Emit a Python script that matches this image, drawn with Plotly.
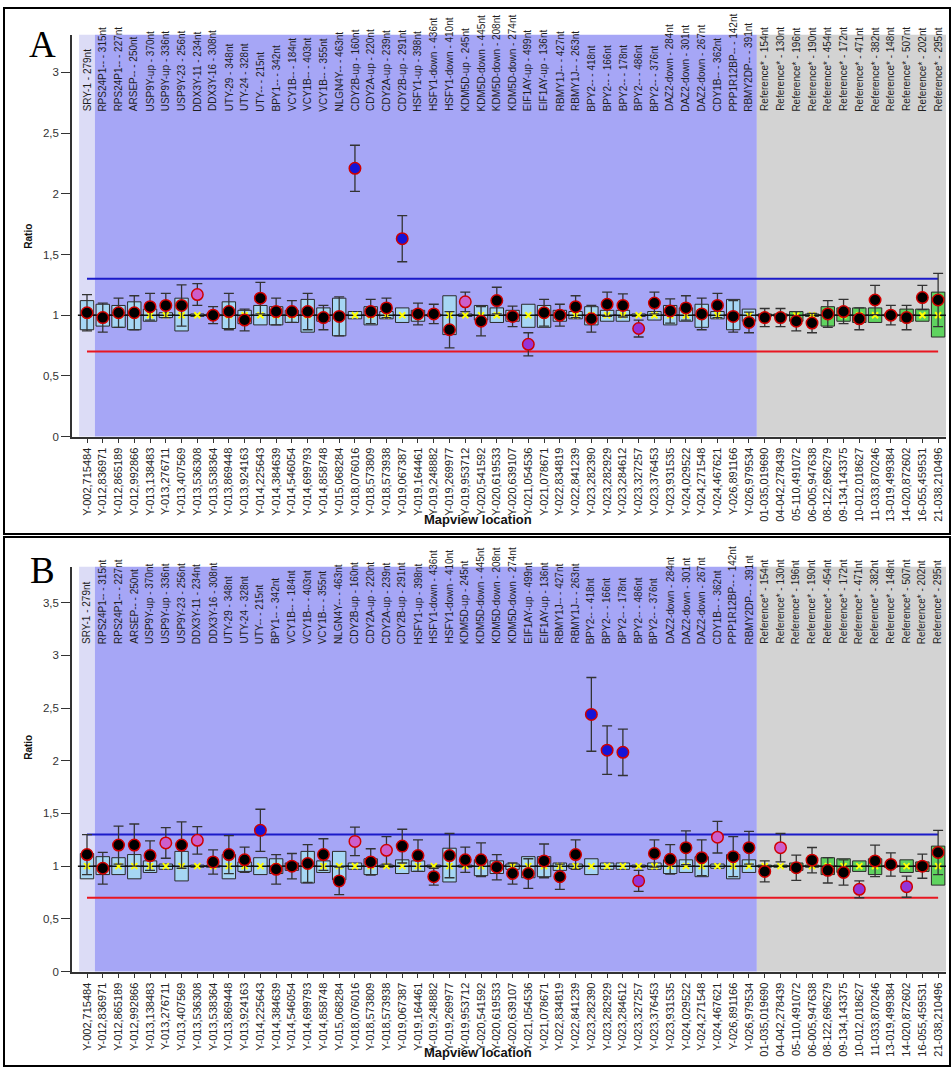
import plotly.graph_objects as go

# ---------------- data ----------------
genes = [
    "SRY-1 - 279nt", "RPS24P1-- - 315nt", "RPS24P1-- - 227nt", "ARSEP-- - 250nt",
    "USP9Y-up - 370nt", "USP9Y-up - 336nt", "USP9Y-23 - 256nt", "DDX3Y-11 - 234nt",
    "DDX3Y-16 - 308nt", "UTY-29 - 348nt", "UTY-24 - 328nt", "UTY-- - 215nt",
    "BPY1-- - 342nt", "VCY1B-- - 184nt", "VCY1B-- - 403nt", "VCY1B-- - 355nt",
    "NLGN4Y-- - 463nt", "CDY2B-up - 160nt", "CDY2A-up - 220nt", "CDY2A-up - 239nt",
    "CDY2B-up - 291nt", "HSFY1-up - 398nt", "HSFY1-down - 436nt", "HSFY1-down - 410nt",
    "KDM5D-up - 245nt", "KDM5D-down - 445nt", "KDM5D-down - 208nt", "KDM5D-down - 274nt",
    "EIF1AY-up - 499nt", "EIF1AY-up - 136nt", "RBMY1J-- - 427nt", "RBMY1J-- - 263nt",
    "BPY2-- - 418nt", "BPY2-- - 166nt", "BPY2-- - 178nt", "BPY2-- - 486nt",
    "BPY2-- - 376nt", "DAZ2-down - 284nt", "DAZ2-down - 301nt", "DAZ2-down - 267nt",
    "CDY1B-- - 362nt", "PPP1R12BP-- - 142nt", "RBMY2DP-- - 391nt",
    "Reference* - 154nt", "Reference* - 130nt", "Reference* - 196nt", "Reference* - 190nt",
    "Reference* - 454nt", "Reference* - 172nt", "Reference* - 471nt", "Reference* - 382nt",
    "Reference* - 148nt", "Reference* - 507nt", "Reference* - 202nt", "Reference* - 295nt",
]

locations = [
    "Y-002,715484", "Y-012,836971", "Y-012,865189", "Y-012,992866", "Y-013,138483",
    "Y-013,276711", "Y-013,407569", "Y-013,536308", "Y-013,538364", "Y-013,869448",
    "Y-013,924163", "Y-014,225643", "Y-014,384639", "Y-014,546054", "Y-014,699793",
    "Y-014,858748", "Y-015,068284", "Y-018,076016", "Y-018,573809", "Y-018,573938",
    "Y-019,067387", "Y-019,164461", "Y-019,248882", "Y-019,269977", "Y-019,953712",
    "Y-020,541592", "Y-020,619533", "Y-020,639107", "Y-021,054536", "Y-021,078671",
    "Y-022,834819", "Y-022,841239", "Y-023,282390", "Y-023,282929", "Y-023,284612",
    "Y-023,327257", "Y-023,376453", "Y-023,931535", "Y-024,029522", "Y-024,271548",
    "Y-024,467621", "Y-026,891166", "Y-026,979534",
    "01-035,019690", "04-042,278439", "05-110,491072", "06-005,947638", "08-122,696279",
    "09-134,143375", "10-012,018627", "11-033,870246", "13-019,499384", "14-020,872602",
    "16-055,459531", "21-038,210496",
]

n_control_first = 1       # SRY column
n_reference_start = 43    # first reference probe index

upper_threshold = 1.3
lower_threshold = 0.7
median_ratio = 1.0

# Panel A
a_low = [0.88, 0.91, 0.90, 0.88, 0.95, 0.98, 0.87, 0.99, 0.99, 0.89, 0.93, 0.92, 0.92, 0.94,
         0.86, 0.95, 0.83, 0.97, 0.92, 0.97, 0.94, 0.95, 0.99, 0.84, 0.99, 0.96, 0.94, 0.95,
         0.90, 0.90, 0.95, 0.97, 0.92, 0.95, 0.95, 0.99, 0.96, 0.92, 0.95, 0.90, 0.97, 0.88,
         0.95, 0.99, 0.99, 0.95, 0.99, 0.91, 0.95, 0.94, 0.94, 0.99, 0.95, 0.95, 0.82]
a_high = [1.12, 1.09, 1.08, 1.11, 1.05, 1.02, 1.14, 1.01, 1.01, 1.11, 1.04, 1.08, 1.07, 1.04,
          1.13, 1.06, 1.14, 1.03, 1.07, 1.03, 1.06, 1.04, 1.01, 1.16, 1.01, 1.08, 1.06, 1.04,
          1.09, 1.08, 1.04, 1.03, 1.07, 1.04, 1.04, 1.01, 1.03, 1.08, 1.06, 1.09, 1.03, 1.13,
          1.05, 1.01, 1.01, 1.03, 1.01, 1.07, 1.06, 1.06, 1.06, 1.01, 1.05, 1.05, 1.19]
a_ratio = [1.02, 0.98, 1.02, 1.02, 1.07, 1.08, 1.08, 1.17, 1.00, 1.03, 0.96, 1.14, 1.03, 1.03,
           1.03, 0.98, 0.99, 2.21, 1.03, 1.06, 1.63, 1.01, 1.01, 0.88, 1.11, 0.95, 1.12, 0.99,
           0.76, 1.02, 1.00, 1.07, 0.97, 1.09, 1.08, 0.89, 1.10, 1.035, 1.06, 1.01, 1.08, 0.99,
           0.94, 0.98, 0.98, 0.95, 0.935, 1.01, 1.03, 0.97, 1.125, 1.00, 0.98, 1.145, 1.125]
a_err = [0.15, 0.12, 0.12, 0.14, 0.11, 0.10, 0.17, 0.09, 0.07, 0.15, 0.09, 0.13, 0.11, 0.09,
         0.15, 0.10, 0.16, 0.19, 0.10, 0.08, 0.19, 0.09, 0.08, 0.15, 0.08, 0.12, 0.11, 0.085,
         0.095, 0.11, 0.09, 0.09, 0.11, 0.10, 0.095, 0.07, 0.09, 0.10, 0.10, 0.13, 0.10, 0.13,
         0.085, 0.075, 0.075, 0.08, 0.08, 0.11, 0.10, 0.09, 0.12, 0.08, 0.10, 0.10, 0.22]
a_status = ("n n n n n n n r n n n n n n n n n h n n h n n n r n n n "
            "l n n n n n n l n n n n n n n n n n n n n n n n n n n").split()

# Panel B
b_low = [0.88, 0.92, 0.92, 0.88, 0.94, 0.97, 0.86, 0.99, 0.99, 0.88, 0.95, 0.92, 0.93, 0.96,
         0.84, 0.94, 0.87, 0.97, 0.92, 0.99, 0.93, 0.95, 0.99, 0.85, 0.99, 0.91, 0.93, 0.97,
         0.89, 0.90, 0.96, 0.98, 0.92, 0.97, 0.97, 0.99, 0.97, 0.93, 0.94, 0.90, 0.98, 0.88,
         0.94, 0.99, 0.99, 0.96, 0.99, 0.92, 0.94, 0.95, 0.92, 0.99, 0.94, 0.95, 0.82]
b_high = [1.12, 1.09, 1.08, 1.11, 1.05, 1.02, 1.14, 1.01, 1.01, 1.11, 1.04, 1.08, 1.07, 1.03,
          1.14, 1.05, 1.14, 1.03, 1.07, 1.01, 1.06, 1.05, 1.01, 1.17, 1.01, 1.06, 1.05, 1.02,
          1.09, 1.09, 1.03, 1.02, 1.07, 1.03, 1.03, 1.01, 1.03, 1.06, 1.06, 1.09, 1.02, 1.11,
          1.06, 1.01, 1.01, 1.03, 1.01, 1.08, 1.07, 1.05, 1.07, 1.01, 1.06, 1.04, 1.19]
b_ratio = [1.11, 0.98, 1.20, 1.20, 1.10, 1.22, 1.20, 1.245, 1.04, 1.11, 1.06, 1.34, 0.97, 1.00,
           1.025, 1.11, 0.86, 1.235, 1.04, 1.15, 1.19, 1.10, 0.90, 1.10, 1.06, 1.06, 0.99, 0.93,
           0.93, 1.05, 0.90, 1.11, 2.44, 2.10, 2.08, 0.86, 1.12, 1.065, 1.175, 1.08, 1.275, 1.09,
           1.175, 0.95, 1.175, 0.985, 1.057, 0.96, 0.94, 0.78, 1.05, 1.016, 0.805, 1.00, 1.13]
b_err = [0.19, 0.15, 0.18, 0.20, 0.14, 0.145, 0.22, 0.13, 0.115, 0.18, 0.12, 0.20, 0.14, 0.12,
         0.18, 0.15, 0.13, 0.135, 0.125, 0.13, 0.16, 0.15, 0.08, 0.21, 0.12, 0.16, 0.12, 0.10,
         0.14, 0.16, 0.12, 0.14, 0.35, 0.23, 0.22, 0.10, 0.13, 0.14, 0.16, 0.17, 0.15, 0.19,
         0.155, 0.10, 0.135, 0.12, 0.12, 0.12, 0.12, 0.08, 0.15, 0.11, 0.10, 0.115, 0.21]
b_status = ("n n n n n r n r n n n h n n n n n r n r n n n n n n n n "
            "n n n n h h h l n n n n r n n n r n n n n l n n l n n").split()

y_ticks_a = [0, 0.5, 1, 1.5, 2, 2.5, 3]
y_ticks_b = [0, 0.5, 1, 1.5, 2, 2.5, 3, 3.5]

# ---------------- styling / layout helpers ----------------
W, H = 952, 1075
FONT = "Liberation Sans, Arial, sans-serif"
STATUS_FILL = {"n": "#000000", "r": "#cc5fcc", "h": "#1414d8", "l": "#9535d8"}
BOX_BLUE = "#a6d6f4"
BOX_GREEN = "#5fd35f"


def px(x):
    return x / W


def py(y):
    return 1 - y / H


idx = list(range(len(genes)))
x_range = [-0.952, 54.5]

fig = go.Figure()

panels = [
    dict(tag="A", xa="x", ya="y", xname="xaxis", yname="yaxis", top=35, bottom=439,
         ymax=3.31, ticks=y_ticks_a, lo=a_low, hi=a_high, ratio=a_ratio, err=a_err,
         status=a_status, frame=(4, 8, 950, 537), letter_y=45, ratio_y=238, xt_y=522),
    dict(tag="B", xa="x2", ya="y2", xname="xaxis2", yname="yaxis2", top=570, bottom=977,
         ymax=3.84, ticks=y_ticks_b, lo=b_low, hi=b_high, ratio=b_ratio, err=b_err,
         status=b_status, frame=(4, 540, 950, 1072), letter_y=574, ratio_y=752, xt_y=1058),
]

shapes = []
annotations = []

for p in panels:
    xa, ya = p["xa"], p["ya"]
    # boxes (normal range)
    box_colors = [BOX_GREEN if i >= n_reference_start else BOX_BLUE for i in idx]
    fig.add_trace(go.Bar(
        x=idx, y=[h - l for l, h in zip(p["lo"], p["hi"])], base=p["lo"], width=0.85,
        marker=dict(color=box_colors, line=dict(color="#2a2a2a", width=1)),
        xaxis=xa, yaxis=ya, showlegend=False, hoverinfo="skip"))
    # median line
    fig.add_trace(go.Scatter(
        x=idx, y=[median_ratio] * len(idx), mode="markers",
        marker=dict(symbol="line-ew", size=13, line=dict(color="#111111", width=1.5)),
        xaxis=xa, yaxis=ya, showlegend=False, hoverinfo="skip"))
    # yellow x
    fig.add_trace(go.Scatter(
        x=idx, y=[median_ratio] * len(idx), mode="markers",
        marker=dict(symbol="x-thin", size=6, line=dict(color="#ffff00", width=2)),
        xaxis=xa, yaxis=ya, showlegend=False, hoverinfo="skip"))
    # thresholds
    fig.add_trace(go.Scatter(
        x=[idx[0], idx[-1]], y=[upper_threshold, upper_threshold], mode="lines",
        line=dict(color="#1b1bc8", width=2), xaxis=xa, yaxis=ya,
        showlegend=False, hoverinfo="skip"))
    fig.add_trace(go.Scatter(
        x=[idx[0], idx[-1]], y=[lower_threshold, lower_threshold], mode="lines",
        line=dict(color="#e81620", width=2), xaxis=xa, yaxis=ya,
        showlegend=False, hoverinfo="skip"))
    # sample ratios with error bars
    fig.add_trace(go.Scatter(
        x=idx, y=p["ratio"], mode="markers",
        marker=dict(size=11.5, color=[STATUS_FILL[s] for s in p["status"]],
                    line=dict(color="#d00000", width=1.5)),
        error_y=dict(type="data", array=p["err"], color="#333333", thickness=1.3, width=5),
        xaxis=xa, yaxis=ya, showlegend=False))

    # background bands
    yref = ya + " domain"
    for x0, x1, col in [(-0.5, n_control_first - 0.5, "#dcdcf6"),
                        (n_control_first - 0.5, n_reference_start - 0.5, "#a6a6f6"),
                        (n_reference_start - 0.5, 54.5, "#d3d3d3")]:
        shapes.append(dict(type="rect", xref=xa, yref=yref, x0=x0, x1=x1, y0=0, y1=1,
                           fillcolor=col, line=dict(width=0), layer="below"))
    # panel frame
    fx0, fy0, fx1, fy1 = p["frame"]
    shapes.append(dict(type="rect", xref="paper", yref="paper", x0=px(fx0), x1=px(fx1),
                       y0=py(fy1), y1=py(fy0), line=dict(color="#000000", width=2),
                       fillcolor="rgba(0,0,0,0)", layer="below"))

    # gene labels on top
    for i, g in enumerate(genes):
        annotations.append(dict(x=i, xref=xa, y=0.807, yref=yref, text=g, textangle=-90,
                                xanchor="center", yanchor="bottom", showarrow=False,
                                borderpad=0, font=dict(family=FONT, size=10, color="#1e1e1e")))
    # panel letter
    annotations.append(dict(x=px(42), y=py(p["letter_y"]), xref="paper", yref="paper",
                            text=p["tag"], showarrow=False, xanchor="center", yanchor="middle",
                            font=dict(family="Liberation Serif, Times New Roman, serif",
                                      size=37, color="#000000")))
    # axis titles
    annotations.append(dict(x=px(29), y=py(p["ratio_y"]), xref="paper", yref="paper",
                            text="<b>Ratio</b>", textangle=-90, showarrow=False,
                            xanchor="center", yanchor="middle",
                            font=dict(family=FONT, size=10, color="#111111")))
    annotations.append(dict(x=px(478), y=py(p["xt_y"]), xref="paper", yref="paper",
                            text="<b>Mapview location</b>", showarrow=False,
                            xanchor="center", yanchor="middle",
                            font=dict(family=FONT, size=13, color="#111111")))

    # axes
    fig.layout[p["xname"]] = dict(
        domain=[px(72), px(946)], range=x_range, anchor=ya,
        tickmode="array", tickvals=idx, ticktext=locations, tickangle=-90,
        ticks="outside", ticklen=5, tickcolor="#333333", tickwidth=1,
        showline=True, linecolor="#333333", linewidth=1.5,
        showgrid=False, zeroline=False,
        tickfont=dict(family=FONT, size=11, color="#222222"))
    fig.layout[p["yname"]] = dict(
        domain=[py(p["bottom"]), py(p["top"])], range=[0, p["ymax"]], anchor=xa,
        tickmode="array", tickvals=p["ticks"],
        ticktext=[str(t).replace(".", ",") if t % 1 else str(int(t)) for t in p["ticks"]],
        ticks="outside", ticklen=9, tickcolor="#333333", tickwidth=1.2,
        showline=True, linecolor="#333333", linewidth=1.5,
        showgrid=False, zeroline=False,
        tickfont=dict(family=FONT, size=11.5, color="#333333"))

fig.update_layout(
    width=W, height=H, margin=dict(l=0, r=0, t=0, b=0),
    paper_bgcolor="#ffffff", plot_bgcolor="#ffffff",
    barmode="overlay", showlegend=False,
    shapes=shapes, annotations=annotations,
)

fig.write_html("out.html", config={"displayModeBar": False},
               post_script="document.body.style.margin='0';document.body.style.overflow='hidden';")
